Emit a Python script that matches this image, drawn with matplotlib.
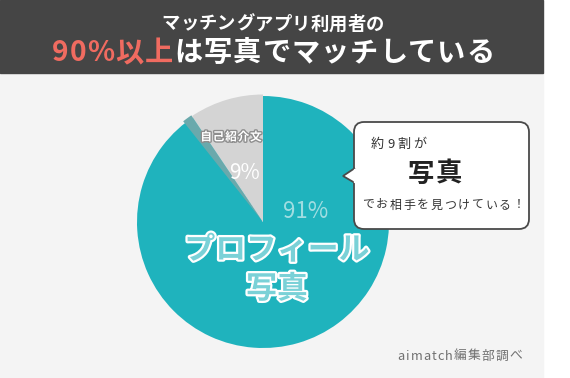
import matplotlib.pyplot as plt
import matplotlib.patheffects as pe
from matplotlib.patches import Rectangle, Wedge, FancyBboxPatch, Polygon

plt.rcParams['font.family'] = ['Noto Sans CJK JP', 'DejaVu Sans']

# data
labels = ["プロフィール\n写真", "自己紹介文"]
shares = [91, 9]
colors = ["#1fb3bd", "#d4d4d4"]

W, H = 570, 378
fig = plt.figure(figsize=(W / 100, H / 100), dpi=100)
ax = fig.add_axes([0, 0, 1, 1])
fig.patch.set_facecolor("white")


def Y(y):
    # pixel row (from top) -> data y
    return H - y


def spaced(xc, y, parts, size, gap=0.0, weight="normal", zorder=9, **kw):
    # draw text char by char with extra letter spacing, centred on xc
    r = fig.canvas.get_renderer()
    items = []
    for s, c in parts:
        for ch in s:
            t = ax.text(0, y, ch, color=c, fontsize=size, fontweight=weight,
                        ha="left", va="center", zorder=zorder, **kw)
            items.append(t)
    widths = [t.get_window_extent(r).width for t in items]
    total = sum(widths) + gap * (len(items) - 1)
    x = xc - total / 2
    for t, w in zip(items, widths):
        t.set_x(x)
        x += w + gap


# pie
cx, cy, rad = 263, Y(222), 126
wedges, _ = ax.pie(shares, colors=colors, startangle=90, counterclock=False,
                   center=(cx, cy), radius=rad, frame=True,
                   wedgeprops=dict(linewidth=0))
wedges[1].set_radius(127.5)
ax.set_xlim(0, W)
ax.set_ylim(0, H)
ax.set_aspect("equal")
ax.axis("off")
fig.canvas.draw()

# background panels
ax.add_patch(Rectangle((0, Y(378)), 543, 305, color="#f4f4f4", zorder=-2))
ax.add_patch(Rectangle((0, Y(73)), 543, 73, color="#454545", zorder=0))

# shadow strip along the grey slice edge
edge = 90 + shares[1] / sum(shares) * 360
ax.add_patch(Wedge((cx, cy), 128.5, edge + 1.5, edge + 6, color="#6aa9ac", lw=0, zorder=3))
ax.add_patch(Wedge((cx, cy), 127.5, edge - 0.5, edge + 1.5, color=colors[1], lw=0, zorder=3))

# header
spaced(273, Y(24), [("マッチングアプリ利用者の", "white")], 13.2, 0.2, "bold")
spaced(273.5, Y(53), [("90%以上", "#f06b60"), ("は写真でマッチしている", "white")],
       20.3, 1.0, "bold")

# pie labels
spaced(231, Y(137), [(labels[1], "white")], 8.4, 0.8, "bold", zorder=5,
       path_effects=[pe.withStroke(linewidth=2, foreground="#8e8e8e")])
ax.text(244.5, Y(173), f"{shares[1]}%", color="white", fontsize=15,
        ha="center", va="center", zorder=5)
ax.text(306, Y(211), f"{shares[0]}%", color="#a0dde1", fontsize=16,
        ha="center", va="center", zorder=5)
for i, line in enumerate(labels[0].split("\n")):
    ax.text(277, Y(250 + 39 * i), line, color="#7ad1d7", fontsize=22.2,
            fontweight="bold", ha="center", va="center", zorder=5,
            path_effects=[pe.withStroke(linewidth=3.2, foreground="white")])

# speech bubble
ax.add_patch(FancyBboxPatch((354, Y(229)), 175, 107,
                            boxstyle="round,pad=0,rounding_size=10",
                            fc="white", ec="#4a4a4a", lw=1.3, zorder=6))
ax.add_patch(Polygon([(355, Y(168)), (343, Y(176)), (355, Y(183))],
                     closed=False, fc="white", ec="#4a4a4a", lw=1.3, zorder=7))
ax.add_patch(Rectangle((354.2, Y(182)), 2.5, 13, color="white", zorder=8))
spaced(398.5, Y(144), [("約9割が", "#333333")], 9.4, 3.0)
spaced(435, Y(174), [("写真", "#222222")], 19.0, 1.0, "bold")
spaced(443.5, Y(205), [("でお相手を見つけている！", "#333333")], 8.6, 1.8)

# source
spaced(460, Y(356), [("aimatch編集部調べ", "#707070")], 9.2, 1.1)

fig.savefig("out.png", dpi=100)
